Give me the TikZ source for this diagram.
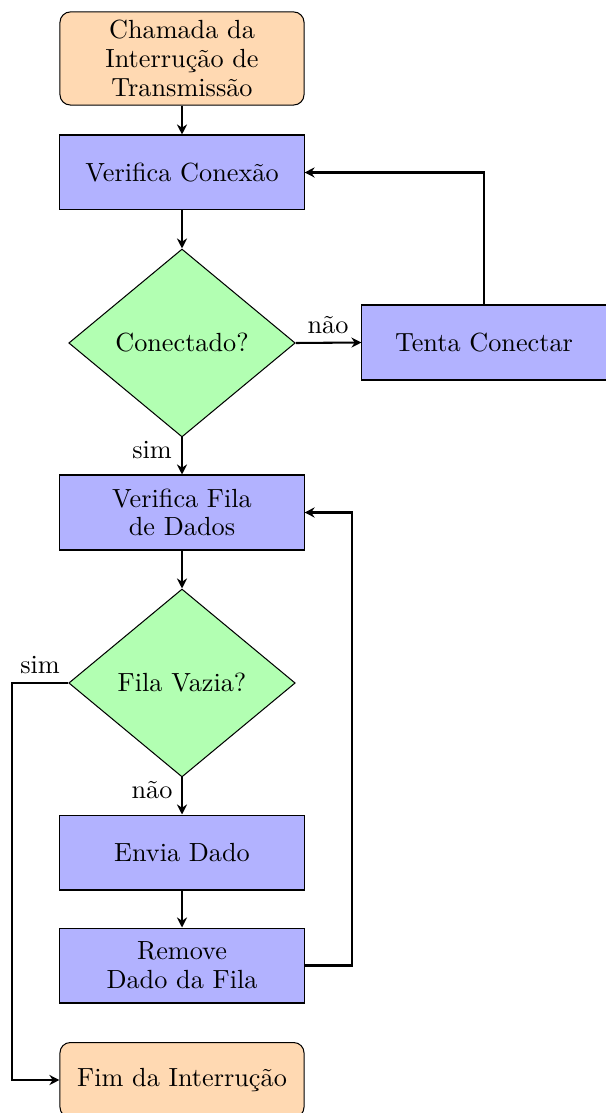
\documentclass[tikz,border=0pt]{standalone}
\usetikzlibrary{shapes.geometric,arrows.meta}
\begin{document}
\begin{tikzpicture}[x=0.3868pt,y=-0.3868pt,>={Stealth[length=3.9pt,width=3.9pt,inset=1.3pt]},
  every node/.style={font=\fontsize{10.15pt}{11.1pt}\selectfont},
  procbox/.style={draw,fill=blue!30,minimum width=94.4pt,minimum height=29pt,align=center,inner sep=0pt},
  termbox/.style={draw,fill=orange!30,rounded corners=4pt,minimum width=94.4pt,minimum height=29pt,align=center,inner sep=0pt},
  decbox/.style={draw,diamond,fill=green!30,aspect=1.2,minimum width=87.6pt,minimum height=72.7pt,inner sep=0pt},
  conn/.style={->,thick},
  lbl/.style={inner sep=1pt}]
\useasboundingbox (0,0) rectangle (605,1113);
\node[termbox,minimum height=36pt] (start) at (182,58.5) {Chamada da\\Interrução de\\Transmissão};
\node[procbox] (vc) at (182,172.5) {Verifica Conexão};
\node[decbox] (d1) at (182,343) {Conectado?};
\node[procbox] (tc) at (484,342.5) {Tenta Conectar};
\node[procbox] (vf) at (182,512.5) {Verifica Fila\\de Dados};
\node[decbox] (d2) at (182,683) {Fila Vazia?};
\node[procbox] (ed) at (182,852.5) {Envia Dado};
\node[procbox] (rd) at (182,965.5) {Remove\\Dado da Fila};
\node[termbox] (fim) at (182,1080) {Fim da Interrução};
\coordinate (c1) at (12,683);
\coordinate (c2) at (352,965.5);
\draw[conn] (start) -- (vc);
\draw[conn] (vc) -- (d1);
\draw[conn] (d1.east) -- (tc.west);
\node[lbl] (l1) at (328,325) {não};
\draw[conn] (tc.north) |- (vc.east);
\draw[conn] (d1.south) -- (vf.north);
\node[lbl] (l2) at (152,450) {sim};
\draw[conn] (vf) -- (d2);
\draw[conn] (d2.west) -- (c1) |- (fim.west);
\node[lbl] (l3) at (40,665) {sim};
\draw[conn] (d2.south) -- (ed.north);
\node[lbl] (l4) at (152,790) {não};
\draw[conn] (ed) -- (rd);
\draw[conn] (rd.east) -- (c2) |- (vf.east);
\end{tikzpicture}
\end{document}
